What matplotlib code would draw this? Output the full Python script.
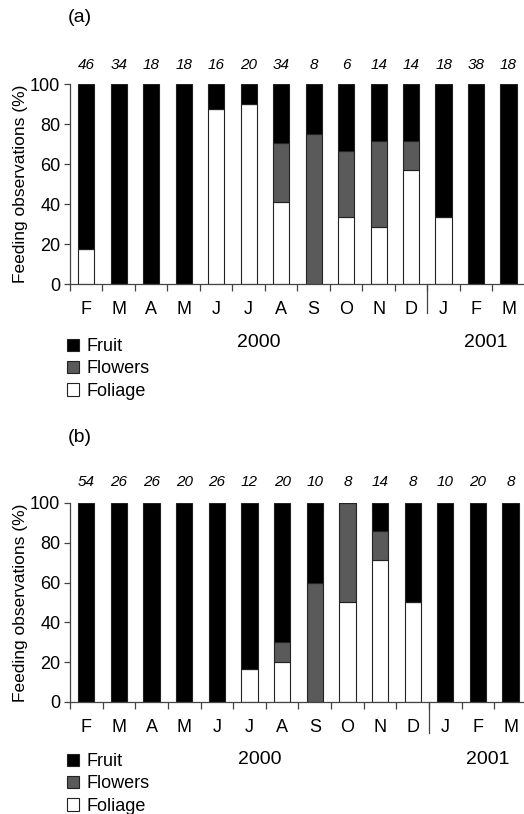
import matplotlib.pyplot as plt
import numpy as np

plt.rcParams["font.family"] = ["Liberation Sans", "DejaVu Sans"]

months = ["F", "M", "A", "M", "J", "J", "A", "S", "O", "N", "D", "J", "F", "M"]

# panel (a)
n_a = [46, 34, 18, 18, 16, 20, 34, 8, 6, 14, 14, 18, 38, 18]
foliage_a = [17.4, 0, 0, 0, 87.5, 90, 41.2, 0, 33.3, 28.6, 57.1, 33.3, 0, 0]
flowers_a = [0, 0, 0, 0, 0, 0, 29.4, 75, 33.3, 42.9, 14.3, 0, 0, 0]
fruit_a = [82.6, 100, 100, 100, 12.5, 10, 29.4, 25, 33.4, 28.5, 28.6, 66.7, 100, 100]

# panel (b)
n_b = [54, 26, 26, 20, 26, 12, 20, 10, 8, 14, 8, 10, 20, 8]
foliage_b = [0, 0, 0, 0, 0, 16.7, 20, 0, 50, 71.4, 50, 0, 0, 0]
flowers_b = [0, 0, 0, 0, 0, 0, 10, 60, 50, 14.3, 0, 0, 0, 0]
fruit_b = [100, 100, 100, 100, 100, 83.3, 70, 40, 0, 14.3, 50, 100, 100, 100]

c_fruit = "black"
c_flow = "#5a5a5a"
c_fol = "white"
edge = "#222222"


def panel(ax, n, fol, flo, fru, tag, tag_y, sep_y, cnt_y, year_y, leg_y):
    x = np.arange(len(months))
    fol = np.array(fol)
    flo = np.array(flo)
    fru = np.array(fru)
    kw = dict(width=0.5, edgecolor=edge, linewidth=0.8)
    b1 = ax.bar(x, fol, color=c_fol, label="Foliage", **kw)
    b2 = ax.bar(x, flo, bottom=fol, color=c_flow, label="Flowers", **kw)
    b3 = ax.bar(x, fru, bottom=fol + flo, color=c_fruit, label="Fruit", **kw)
    ax.set_xlim(-0.5, 13.5)
    ax.set_ylim(0, 100)
    ax.set_yticks(range(0, 101, 20))
    ax.set_xticks(x)
    ax.set_xticklabels(months)
    ax.set_xticks(np.arange(-0.5, 14, 1), minor=True)
    ax.tick_params(axis="x", which="major", length=0, pad=12, labelsize=13)
    ax.tick_params(axis="x", which="minor", length=5, width=0.9, color="#444444")
    ax.tick_params(axis="y", length=4, width=0.9, color="#444444", pad=3, labelsize=13)
    for s in ["top", "right"]:
        ax.spines[s].set_visible(False)
    for s in ["left", "bottom"]:
        ax.spines[s].set_color("#444444")
        ax.spines[s].set_linewidth(0.9)
    ax.set_ylabel("Feeding observations (%)", fontsize=12.5, labelpad=1.5)
    ax.plot([10.5, 10.5], [0, sep_y], color="#444444", lw=0.9, clip_on=False,
            transform=ax.get_xaxis_transform())
    for xi, v in zip(x, n):
        ax.text(xi, cnt_y, str(v), ha="center", va="center", fontsize=11,
                style="italic", transform=ax.get_xaxis_transform())
    ax.text(5.31, year_y, "2000", ha="center", va="center", fontsize=14,
            transform=ax.get_xaxis_transform())
    ax.text(12.3, year_y, "2001", ha="center", va="center", fontsize=14,
            transform=ax.get_xaxis_transform())
    ax.legend(handles=[b3, b2, b1], loc="upper left", bbox_to_anchor=(0.128, leg_y),
              bbox_transform=fig.transFigure, frameon=False, fontsize=13,
              handlelength=0.65, handleheight=0.65, handletextpad=0.45,
              labelspacing=0.3, borderpad=0, borderaxespad=0)
    fig.text(0.13, tag_y, tag, fontsize=14, va="center")


fig = plt.figure(figsize=(5.24, 8.14), dpi=100)
ax1 = fig.add_axes([0.1336, 0.651, 0.868, 0.2457])
ax2 = fig.add_axes([0.1336, 0.1376, 0.872, 0.2445])

panel(ax1, n_a, foliage_a, flowers_a, fruit_a, "(a)", 1 - 18 / 814,
      -0.145, 1.095, -0.29, 1 - 338 / 814)
panel(ax2, n_b, foliage_b, flowers_b, fruit_b, "(b)", 1 - 438 / 814,
      -0.155, 1.105, -0.29, 1 - 753 / 814)

fig.savefig("out.png", dpi=100)
